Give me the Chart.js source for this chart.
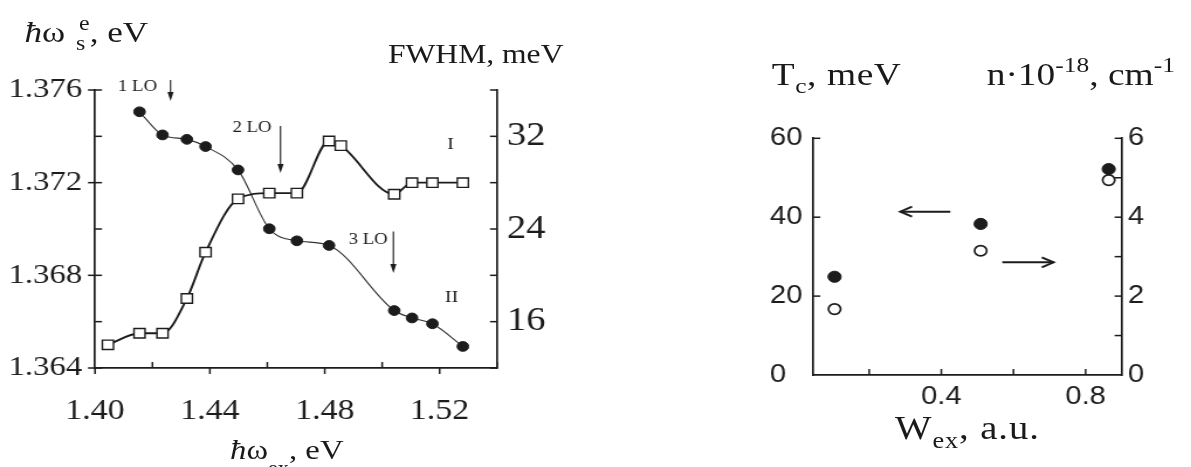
<!DOCTYPE html>
<html><head><meta charset="utf-8">
<script src="https://cdn.jsdelivr.net/npm/chart.js@4.4.1/dist/chart.umd.min.js"></script>
<style>
html,body{margin:0;padding:0;background:#fff;overflow:hidden;width:1191px;height:467px;}
#stage{position:absolute;left:0;top:0;width:1018px;height:467px;transform:scaleX(1.17);transform-origin:0 0;}
.box{position:absolute;top:0;height:467px;}
.t{position:absolute;font-family:'Liberation Serif',serif;color:#1a1a1a;line-height:1;white-space:nowrap;}
.sub{position:relative;font-size:0.68em;top:0.38em;}
.sup{position:relative;font-size:0.68em;top:-0.6em;}
</style></head>
<body>
<div id="stage">
  <div class="box" style="left:0;width:500px"><canvas id="c1"></canvas></div>
  <div class="box" style="left:600px;width:418px"><canvas id="c2"></canvas></div>
  <div class="t" style="left:21px;top:17px;font-size:30px"><i>ħ</i>ω<span class="sub" style="margin-left:0.45em">s</span><span class="sup" style="margin-left:-0.26em">e</span>,&nbsp;eV</div>
  <div class="t" style="left:331.6px;top:41px;font-size:27px">FWHM, meV</div>
  <div class="t" style="left:196.6px;top:436px;font-size:28px"><i>ħ</i>ω<span class="sub" style="top:0.8em">ex</span>,&nbsp;eV</div>
  <div class="t" style="left:659.6px;top:58px;font-size:32px;letter-spacing:0.5px">T<span class="sub">c</span>, meV</div>
  <div class="t" style="left:843.3px;top:58px;font-size:32px">n·10<span class="sup">-18</span>, cm<span class="sup">-1</span></div>
  <div class="t" style="left:765px;top:412px;font-size:33px;letter-spacing:0.8px">W<span class="sub">ex</span>, a.u.</div>
</div>
<script>
// ---------- data: left panel ----------
const excEnergyII  = [1.4155, 1.4235, 1.432, 1.4385, 1.4498, 1.4607, 1.4703, 1.4815, 1.5042, 1.5104, 1.5175, 1.5281];
const scatEnergyII = [1.37506, 1.37406, 1.37387, 1.37356, 1.37255, 1.37001, 1.36949, 1.36929, 1.36648, 1.36616, 1.36591, 1.36493];
const excEnergyI   = [1.4045, 1.4155, 1.4235, 1.432, 1.4385, 1.4498, 1.4607, 1.4703, 1.4815, 1.4856, 1.5042, 1.5104, 1.5175, 1.5281];
const fwhmI        = [14.0, 15.0, 15.0, 18.0, 22.0, 26.6, 27.1, 27.1, 31.6, 31.2, 27.0, 28.0, 28.0, 28.0];
// ---------- data: right panel ----------
const excPower = [0.104, 0.509, 0.864];
const tcValues = [24.9, 38.3, 52.2];
const nValues  = [1.67, 3.15, 4.94];
// ---------- tick labels ----------
const xLabelsL  = ['1.40', '1.44', '1.48', '1.52'];
const yLabelsL  = ['1.364', '1.368', '1.372', '1.376'];
const yLabelsR  = ['16', '24', '32'];
const xLabelsW  = ['0.4', '0.8'];
const yLabelsTc = ['0', '20', '40', '60'];
const yLabelsN  = ['0', '2', '4', '6'];
// ---------- annotations ----------
const loNames  = ['1 LO', '2 LO', '3 LO'];
const loX      = [1.4263, 1.4646, 1.5039];
const loYtop   = [1.37643, 1.37445, 1.36989];
const loYtip   = [1.37553, 1.37242, 1.36810];
const loTextX  = [1.4148, 1.4547, 1.4951];
const loTextY  = [1.37613, 1.37438, 1.36953];
const curveNames = ['I', 'II'];
const curveTextX = [1.5238, 1.5242];
const curveTextY = [31.25, 18.09];

const INK = '#1c1c1c';
const SERIF = "'Liberation Serif', serif";
const SANS = "'Liberation Sans', Arial, sans-serif";
Chart.defaults.color = INK;

function lab(arr, dec) {
  return v => { const s = Number(v).toFixed(dec); return arr.includes(s) ? s : ''; };
}

const tickMarks = {
  id: 'tickMarks',
  afterDraw(chart, args, opts) {
    const ctx = chart.ctx, a = chart.chartArea;
    ctx.save();
    ctx.strokeStyle = INK; ctx.lineWidth = 1.5;
    for (const s of opts.axes) {
      const sc = chart.scales[s.id];
      for (const t of sc.ticks) {
        if (s.skip && s.skip.includes(t.value)) continue;
        const p = sc.getPixelForValue(t.value);
        const labeled = t.label !== '' && t.label !== undefined;
        const inL = labeled ? s.inLab : s.inUn;
        const outL = labeled ? s.outLab : s.outUn;
        if (!inL && !outL) continue;
        ctx.beginPath();
        if (s.side === 'left')   { ctx.moveTo(a.left - outL, p);  ctx.lineTo(a.left + inL, p); }
        if (s.side === 'right')  { ctx.moveTo(a.right + outL, p); ctx.lineTo(a.right - inL, p); }
        if (s.side === 'bottom') { ctx.moveTo(p, a.bottom + outL); ctx.lineTo(p, a.bottom - inL); }
        ctx.stroke();
      }
    }
    ctx.restore();
  }
};

const annotLeft = {
  id: 'annotLeft',
  afterDraw(chart) {
    const ctx = chart.ctx, x = chart.scales.x, yL = chart.scales.yL, yR = chart.scales.yR;
    ctx.save();
    ctx.strokeStyle = INK; ctx.fillStyle = INK; ctx.lineWidth = 1.1;
    ctx.font = '16px ' + SERIF; ctx.textAlign = 'center'; ctx.textBaseline = 'middle';
    loNames.forEach((n, i) => {
      const px = x.getPixelForValue(loX[i]);
      const y1 = yL.getPixelForValue(loYtop[i]), y2 = yL.getPixelForValue(loYtip[i]);
      ctx.beginPath(); ctx.moveTo(px, y1); ctx.lineTo(px, y2 - 6); ctx.stroke();
      ctx.beginPath(); ctx.moveTo(px - 2.6, y2 - 9); ctx.lineTo(px, y2); ctx.lineTo(px + 2.6, y2 - 9); ctx.closePath(); ctx.fill();
      ctx.fillText(n, x.getPixelForValue(loTextX[i]), yL.getPixelForValue(loTextY[i]));
    });
    ctx.font = '17px ' + SERIF;
    curveNames.forEach((n, i) => {
      ctx.fillText(n, x.getPixelForValue(curveTextX[i]), yR.getPixelForValue(curveTextY[i]));
    });
    ctx.restore();
  }
};

const arrowsRight = {
  id: 'arrowsRight',
  afterDraw(chart) {
    const ctx = chart.ctx, x = chart.scales.x;
    const arrows = [
      {x1: 0.4249, x2: 0.2864, y: 41.4, axis: 'yTc'},
      {x1: 0.569,  x2: 0.711,  y: 2.857, axis: 'yN'}
    ];
    ctx.save();
    ctx.strokeStyle = INK; ctx.fillStyle = INK; ctx.lineWidth = 2;
    for (const ar of arrows) {
      const py = chart.scales[ar.axis].getPixelForValue(ar.y);
      const p1 = x.getPixelForValue(ar.x1), p2 = x.getPixelForValue(ar.x2);
      const d = Math.sign(p2 - p1);
      ctx.beginPath(); ctx.moveTo(p1, py); ctx.lineTo(p2, py); ctx.stroke();
      ctx.beginPath(); ctx.moveTo(p2 - d * 10, py - 5); ctx.lineTo(p2, py); ctx.lineTo(p2 - d * 10, py + 5); ctx.stroke();
    }
    ctx.restore();
  }
};

const commonAxis = (extra) => Object.assign({
  type: 'linear',
  grid: {display: false, drawTicks: false},
  border: {display: true, color: INK, width: 1.7},
}, extra);

new Chart(document.getElementById('c1'), {
  type: 'scatter',
  data: {
    datasets: [
      {
        label: 'I', yAxisID: 'yR',
        data: excEnergyI.map((v, i) => ({x: v, y: fwhmI[i]})),
        showLine: true, borderColor: INK, borderWidth: 1.9, cubicInterpolationMode: 'monotone',
        pointStyle: 'rect', pointRadius: 6.7, pointBackgroundColor: '#fff', pointBorderColor: INK, pointBorderWidth: 1.4
      },
      {
        label: 'II', yAxisID: 'yL',
        data: excEnergyII.map((v, i) => ({x: v, y: scatEnergyII[i]})),
        showLine: true, borderColor: '#333', borderWidth: 1.1, cubicInterpolationMode: 'monotone',
        pointStyle: 'circle', pointRadius: 4.9, pointBackgroundColor: INK, pointBorderColor: INK, pointBorderWidth: 1
      }
    ]
  },
  options: {
    responsive: true, maintainAspectRatio: false, animation: false, devicePixelRatio: 1, events: [],
    layout: {padding: {top: 90, left: 0, right: 0, bottom: 0}},
    plugins: {
      legend: {display: false}, tooltip: {enabled: false},
      tickMarks: {axes: [
        {id: 'x', side: 'bottom', inLab: 0, outLab: 6, inUn: 6, outUn: 0},
        {id: 'yL', side: 'left', inLab: 6, outLab: 6, inUn: 6, outUn: 0},
        {id: 'yR', side: 'right', inLab: 6, outLab: 0, inUn: 6, outUn: 0}
      ]}
    },
    scales: {
      x: commonAxis({position: 'bottom', min: 1.40, max: 1.54,
        ticks: {stepSize: 0.02, autoSkip: false, includeBounds: false, maxRotation: 0, padding: 26,
          font: {size: 29, family: SERIF}, color: INK, callback: lab(xLabelsL, 2)},
        afterFit: s => { s.height = 99; }}),
      yL: commonAxis({position: 'left', min: 1.364, max: 1.376,
        ticks: {stepSize: 0.002, autoSkip: false, includeBounds: false, padding: 11,
          font: {size: 28, family: SERIF}, color: INK, callback: lab(yLabelsL, 3)},
        afterFit: s => { s.width = 81.2; }}),
      yR: commonAxis({position: 'right', min: 12, max: 36,
        ticks: {stepSize: 4, autoSkip: false, includeBounds: false, padding: 8.5,
          font: {size: 33, family: SERIF}, color: INK, callback: lab(yLabelsR, 0)},
        afterFit: s => { s.width = 75.2; }})
    }
  },
  plugins: [tickMarks, annotLeft]
});

new Chart(document.getElementById('c2'), {
  type: 'scatter',
  data: {
    datasets: [
      {
        label: 'Tc', yAxisID: 'yTc',
        data: excPower.map((v, i) => ({x: v, y: tcValues[i]})),
        pointStyle: 'circle', pointRadius: 5.6, pointBackgroundColor: INK, pointBorderColor: INK, pointBorderWidth: 1
      },
      {
        label: 'n', yAxisID: 'yN',
        data: excPower.map((v, i) => ({x: v, y: nValues[i]})),
        pointStyle: 'circle', pointRadius: 5.2, pointBackgroundColor: '#fff', pointBorderColor: INK, pointBorderWidth: 1.7
      }
    ]
  },
  options: {
    responsive: true, maintainAspectRatio: false, animation: false, devicePixelRatio: 1, events: [],
    layout: {padding: {top: 138.3, left: 58.1, right: 0, bottom: 0}},
    plugins: {
      legend: {display: false}, tooltip: {enabled: false},
      tickMarks: {axes: [
        {id: 'x', side: 'bottom', inLab: 6, outLab: 0, inUn: 6, outUn: 0},
        {id: 'yTc', side: 'left', inLab: 6, outLab: 0, inUn: 6, outUn: 0, skip: [0]},
        {id: 'yN', side: 'right', inLab: 6, outLab: 0, inUn: 6, outUn: 0, skip: [0]}
      ]}
    },
    scales: {
      x: commonAxis({position: 'bottom', min: 0.045, max: 0.9,
        ticks: {stepSize: 0.2, autoSkip: false, includeBounds: false, maxRotation: 0, padding: 7.5,
          font: {size: 25, family: SANS}, color: INK, callback: lab(xLabelsW, 1)},
        afterFit: s => { s.height = 92; }}),
      yTc: commonAxis({position: 'left', min: 0, max: 60,
        ticks: {stepSize: 20, autoSkip: false, crossAlign: 'far', padding: 11,
          font: {size: 25, family: SANS}, color: INK, callback: lab(yLabelsTc, 0)},
        afterFit: s => { s.width = 37; }}),
      yN: commonAxis({position: 'right', min: 0, max: 6,
        ticks: {stepSize: 1, autoSkip: false, padding: 5.4,
          font: {size: 25, family: SANS}, color: INK, callback: lab(yLabelsN, 0)},
        afterFit: s => { s.width = 59.3; }})
    }
  },
  plugins: [tickMarks, arrowsRight]
});
</script>
</body></html>
